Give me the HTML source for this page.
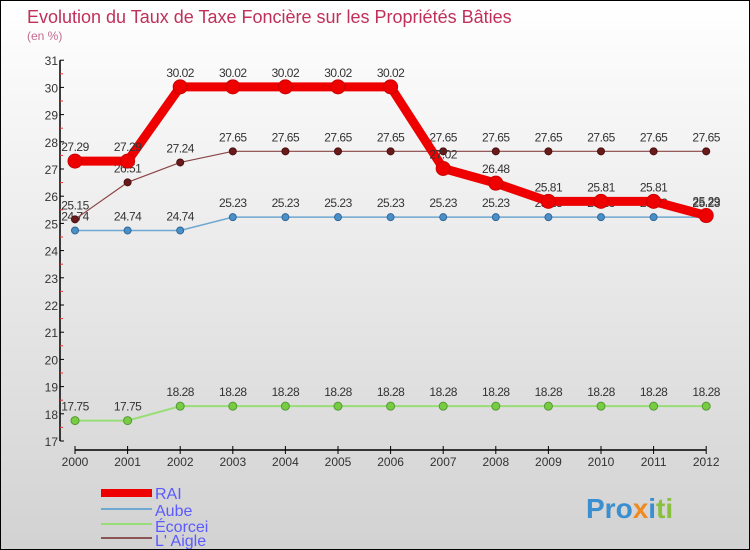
<!DOCTYPE html>
<html><head><meta charset="utf-8"><style>
body{margin:0}
#c{position:relative;width:748px;height:548px;border:1px solid #000;background:linear-gradient(#ffffff,#d2d2d2);overflow:hidden;font-family:"Liberation Sans",sans-serif}
</style></head><body>
<div id="c">
<svg id="s" width="748" height="548">
<text x="26" y="22" font-size="18" fill="#c0305a">Evolution du Taux de Taxe Foncière sur les Propriétés Bâties</text>
<text x="26" y="39" font-size="12" fill="#c46a8e">(en %)</text>
<g id="axes"></g><g id="series"></g>
<g>
<rect x="100" y="488" width="51" height="8" fill="#ee0000"/>
<text x="154" y="498" font-size="16" fill="#5a5aff">RAI</text>
<rect x="100" y="507" width="51" height="2" fill="#6fa8d0"/>
<text x="154" y="515" font-size="16" fill="#5a5aff">Aube</text>
<rect x="100" y="522" width="51" height="2" fill="#99dd77"/>
<text x="154" y="531" font-size="16" fill="#5a5aff">Écorcei</text>
<rect x="100" y="536" width="51" height="2" fill="#8a5555"/>
<text x="154" y="545" font-size="16" fill="#5a5aff">L' Aigle</text>
</g>
<text x="585" y="517" font-size="28" font-weight="bold"><tspan fill="#3a8fd0">Pro</tspan><tspan fill="#f08a20">x</tspan><tspan fill="#3a8fd0">i</tspan><tspan fill="#8ac040">ti</tspan></text>
</svg></div>
<script>
const years=[2000,2001,2002,2003,2004,2005,2006,2007,2008,2009,2010,2011,2012];
const yTicks=[17,18,19,20,21,22,23,24,25,26,27,28,29,30,31];
const rai=[27.29,27.29,30.02,30.02,30.02,30.02,30.02,27.02,26.48,25.81,25.81,25.81,25.29];
const aube=[24.74,24.74,24.74,25.23,25.23,25.23,25.23,25.23,25.23,25.23,25.23,25.23,25.23];
const ecorcei=[17.75,17.75,18.28,18.28,18.28,18.28,18.28,18.28,18.28,18.28,18.28,18.28,18.28];
const laigle=[25.15,26.51,27.24,27.65,27.65,27.65,27.65,27.65,27.65,27.65,27.65,27.65,27.65];
const NS="http://www.w3.org/2000/svg";
const X=i=>74+i*52.6, Y=v=>440-(v-17)*27.2;
function mk(t,a,p){const e=document.createElementNS(NS,t);for(const k in a)e.setAttribute(k,a[k]);p.appendChild(e);return e;}
const ax=document.getElementById('axes'), sg=document.getElementById('series');
let e=mk('line',{x1:59,y1:Y(31),x2:59,y2:Y(17),stroke:'#000','stroke-width':1.5},ax);


e=mk('line',{x1:X(0),y1:449,x2:X(12),y2:449,stroke:'#000','stroke-width':1.5},ax);


yTicks.forEach(v=>{
 mk('line',{x1:59,y1:Y(v),x2:63,y2:Y(v),stroke:'#000'},ax);
 if(v<31) mk('line',{x1:59,y1:Y(v+0.5),x2:62,y2:Y(v+0.5),stroke:'#e33'},ax);
 const t=mk('text',{x:57,y:Y(v)+5,'font-size':12,'text-anchor':'end',fill:'#333'},ax);t.textContent=v;
 
 
});
years.forEach((y,i)=>{
 mk('line',{x1:X(i),y1:445,x2:X(i),y2:453,stroke:'#000'},ax);
 const t=mk('text',{x:X(i),y:465,'font-size':12,'text-anchor':'middle',fill:'#333'},ax);t.textContent=y;
 
 
});
function series(d,name,col,lw,r,dot,dotStroke){
 const g=mk('g',{},sg);
 
 
 mk('polyline',{points:d.map((v,i)=>X(i)+','+Y(v)).join(' '),fill:'none',stroke:col,'stroke-width':lw,'stroke-linejoin':'round'},g);
 d.forEach((v,i)=>{
  const c=mk('circle',{cx:X(i),cy:Y(v),r:r,fill:dot,stroke:dotStroke,'stroke-width':1},g);
  
  
  const t=mk('text',{x:X(i),y:Y(v)-10,'font-size':12,'text-anchor':'middle',fill:'#333','letter-spacing':'-0.5'},g);t.textContent=v.toFixed(2);
  
  
 });
}
series(ecorcei,'ecorcei','#99dd77',2,4,'#77cc44','#559933');
series(aube,'aube','#6fa8d0',1.5,3.5,'#4a90c8','#336699');
series(laigle,'laigle','#8a4545',1.2,3.5,'#6a1a1a','#4a1010');
series(rai,'rai','#ee0000',9,7,'#ee0000','#cc0000');
</script>
</body></html>
